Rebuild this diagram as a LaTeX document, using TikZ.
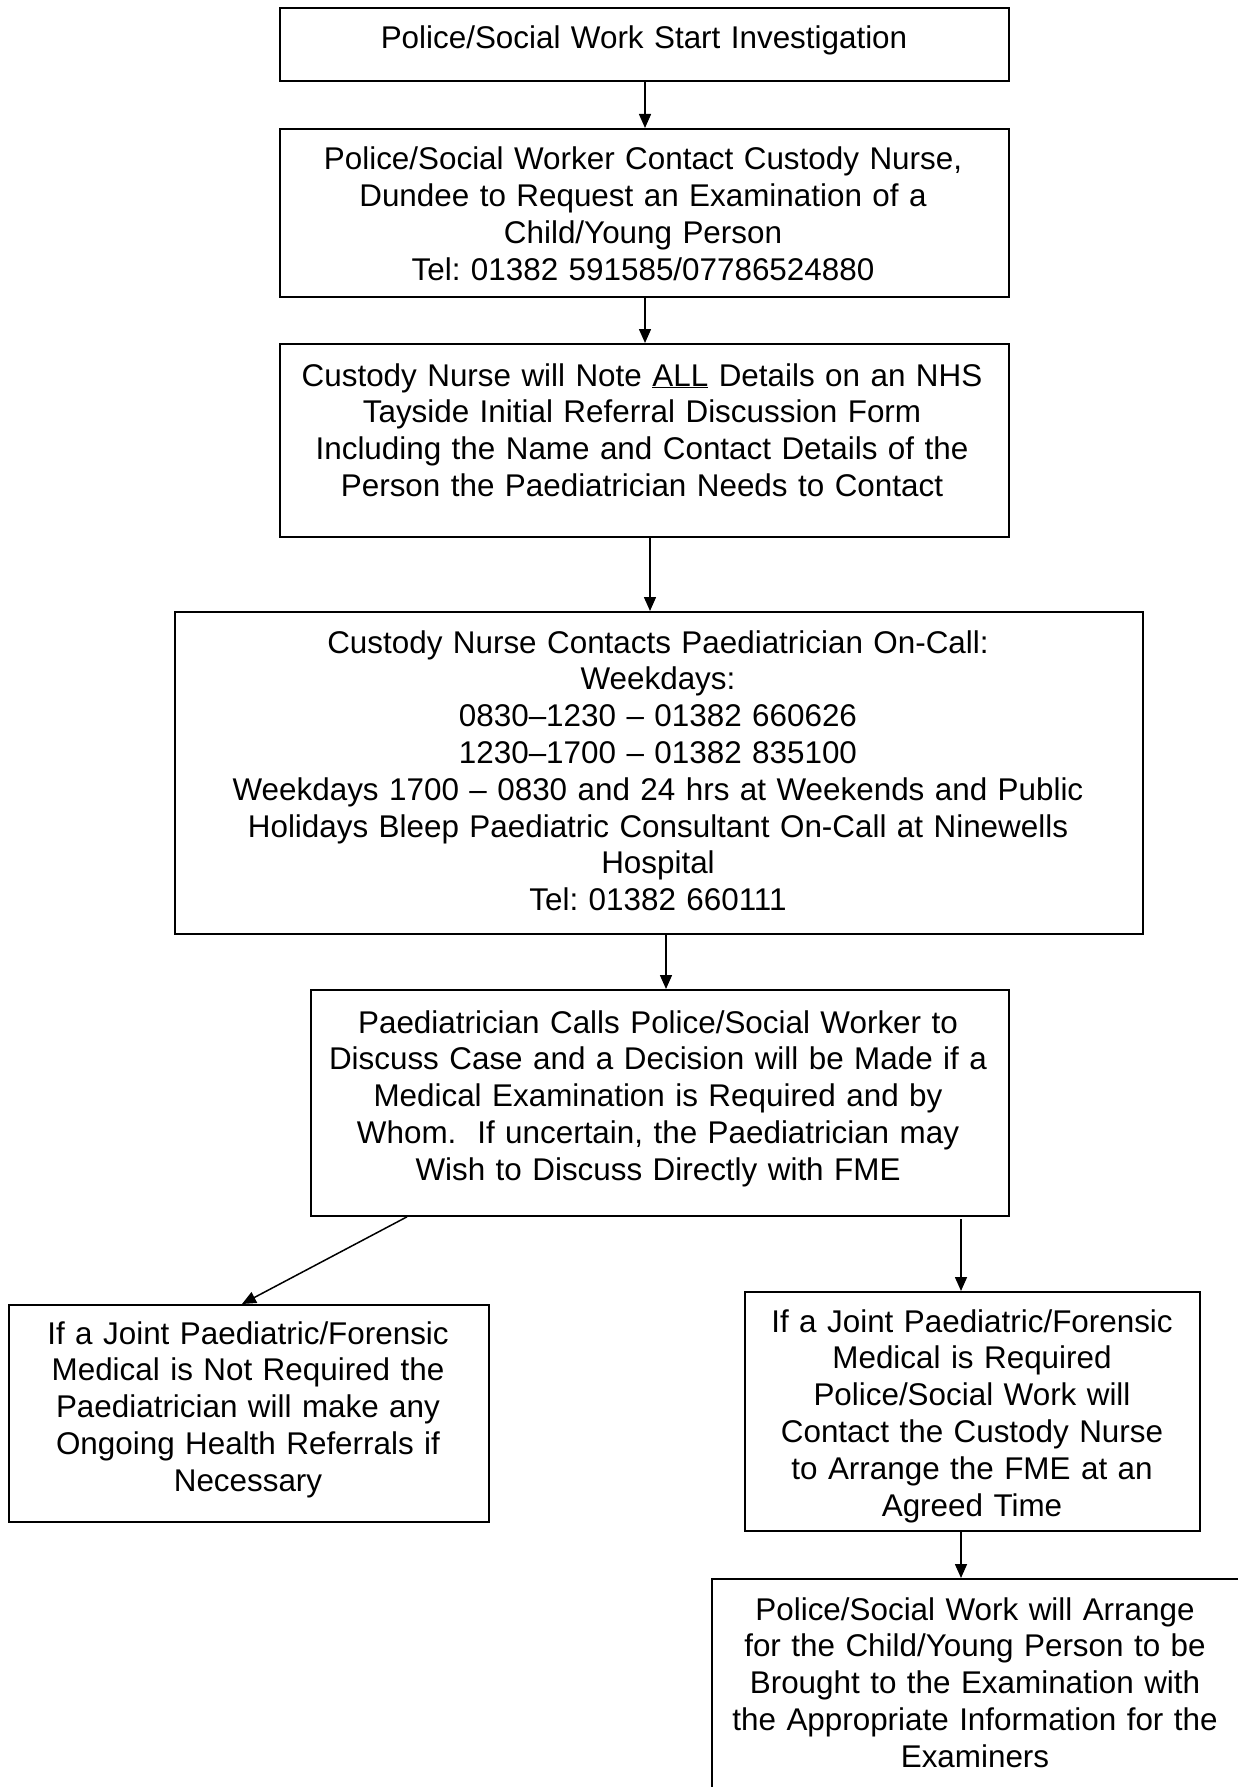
\documentclass[tikz,border=0pt]{standalone}
\usepackage{fontspec}
\setmainfont{Liberation Sans}
\usetikzlibrary{arrows.meta}
\frenchspacing
\begin{document}
\begin{tikzpicture}[x=1pt,y=-1pt,
 box/.style={draw=black, line width=1.8pt, anchor=north west, inner sep=0pt},
 txt/.style={font=\fontsize{31.4}{36.8}\selectfont, align=center, inner sep=0pt, anchor=base},
 arr/.style={line width=1.5pt, -{Triangle[length=14pt,width=12pt]}}]
\useasboundingbox (0,0) rectangle (1238,1787);
\clip (0,0) rectangle (1238,1787);
% boxes
\node[box, minimum width=729pt, minimum height=73pt] (b1) at (279,7) {};
\node[box, minimum width=729pt, minimum height=168pt] (b2) at (279,128) {};
\node[box, minimum width=729pt, minimum height=193pt] (b3) at (279,343) {};
\node[box, minimum width=968pt, minimum height=322pt] (b4) at (174,611) {};
\node[box, minimum width=698pt, minimum height=226pt] (b5) at (310,989) {};
\node[box, minimum width=480pt, minimum height=217pt] (b6) at (8,1304) {};
\node[box, minimum width=455pt, minimum height=239pt] (b7) at (744,1291) {};
\node[box, minimum width=560pt, minimum height=260pt] (b8) at (711,1578) {};
% texts
\node[txt, text width=710pt] (t1) at (644,49) {Police/Social Work Start Investigation};
\node[txt, text width=710pt] (t2) at (643,170) {Police/Social Worker Contact Custody Nurse,\\Dundee to Request an Examination of a\\Child/Young Person\\Tel: 01382 591585/07786524880};
\node[txt, text width=710pt] (t3) at (642,386) {Custody Nurse will Note \underline{ALL} Details on an NHS\\Tayside Initial Referral Discussion Form\\Including the Name and Contact Details of the\\Person the Paediatrician Needs to Contact};
\node[txt, text width=950pt] (t4) at (658,653) {Custody Nurse Contacts Paediatrician On-Call:\\Weekdays:\\0830–1230 – 01382 660626\\1230–1700 – 01382 835100\\Weekdays 1700 – 0830 and 24 hrs at Weekends and Public\\Holidays Bleep Paediatric Consultant On-Call at Ninewells\\Hospital\\Tel: 01382 660111};
\node[txt, text width=690pt] (t5) at (658,1033) {Paediatrician Calls Police/Social Worker to\\Discuss Case and a Decision will be Made if a\\Medical Examination is Required and by\\Whom.\ \ If uncertain, the Paediatrician may\\Wish to Discuss Directly with FME};
\node[txt, text width=470pt] (t6) at (248,1344) {If a Joint Paediatric/Forensic\\Medical is Not Required the\\Paediatrician will make any\\Ongoing Health Referrals if\\Necessary};
\node[txt, text width=450pt] (t7) at (972,1332) {If a Joint Paediatric/Forensic\\Medical is Required\\Police/Social Work will\\Contact the Custody Nurse\\to Arrange the FME at an\\Agreed Time};
\node[txt, text width=520pt] (t8) at (975,1620) {Police/Social Work will Arrange\\for the Child/Young Person to be\\Brought to the Examination with\\the Appropriate Information for the\\Examiners};
% connector x positions
\coordinate (x12) at (645,0);
\coordinate (x34) at (650,0);
\coordinate (x45) at (666,0);
\coordinate (d1) at (407,0);
\coordinate (d2) at (242,0);
\coordinate (r1) at (961,1219);
\coordinate (x78) at (961,0);
% connectors
\draw[arr] (b1.south -| x12) -- (b2.north -| x12);
\draw[arr] (b2.south -| x12) -- (b3.north -| x12);
\draw[arr] (b3.south -| x34) -- (b4.north -| x34);
\draw[arr] (b4.south -| x45) -- (b5.north -| x45);
\draw[arr] (b5.south -| d1) -- (b6.north -| d2);
\draw[arr] (r1) -- (b7.north -| r1);
\draw[arr] (b7.south -| x78) -- (b8.north -| x78);
\end{tikzpicture}
\end{document}
